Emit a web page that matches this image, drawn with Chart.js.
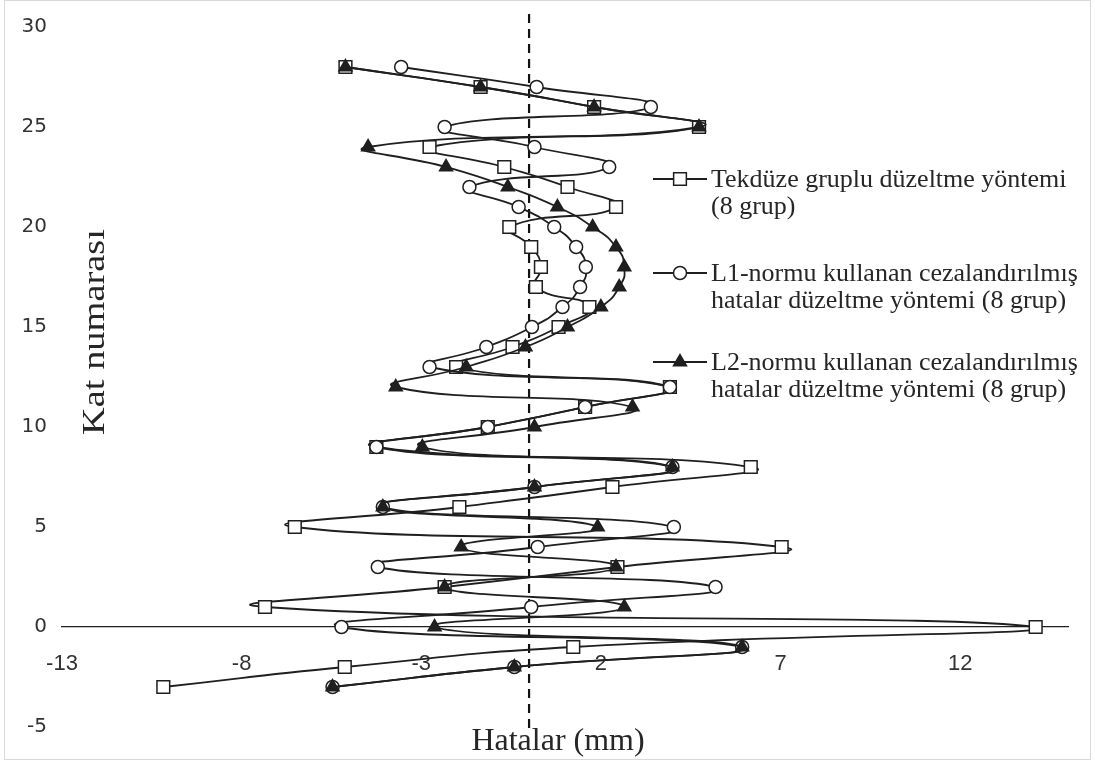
<!DOCTYPE html>
<html>
<head>
<meta charset="utf-8">
<script src="https://cdn.jsdelivr.net/npm/chart.js@4/dist/chart.umd.min.js"></script>
<style>
  html, body { margin: 0; background: #fff; }
  #wrap { width: 1095px; height: 760px; }
</style>
</head>
<body>
<div id="wrap"><canvas id="chart1" width="1095" height="760"></canvas></div>
<script>
// Kat numaraları (y ekseni)
const floors = [-3, -2, -1, 0, 1, 2, 3, 4, 5, 6, 7, 8, 9, 10, 11, 12, 13, 14,
  15, 16, 17, 18, 19, 20, 21, 22, 23, 24, 25, 26, 27, 28];

// Hatalar (mm), her kat için
const tekduze = [-10.18, -5.13, 1.23, 14.1, -7.35, -2.35, 2.46, 7.03, -6.52, -1.94,
  2.32, 6.17, -4.25, -1.15, 1.56, 3.92, -2.03, -0.46, 0.82, 1.68, 0.19, 0.33, 0.06,
  -0.55, 2.42, 1.07, -0.69, -2.77, 4.73, 1.81, -1.35, -5.11];
const l1Normu = [-5.47, -0.41, 5.93, -5.22, 0.06, 5.19, -4.21, 0.24, 4.03, -4.07,
  0.15, 3.99, -4.25, -1.15, 1.56, 3.92, -2.77, -1.19, 0.08, 0.93, 1.42, 1.58, 1.31,
  0.70, -0.29, -1.66, 2.23, 0.15, -2.35, 3.39, 0.21, -3.56];
const l2Normu = [-5.47, -0.41, 5.93, -2.63, 2.65, -2.35, 2.42, -1.89, 1.91, -4.07,
  0.15, 3.99, -2.97, 0.15, 2.88, -3.71, -1.75, -0.10, 1.07, 2.0, 2.51, 2.65, 2.42,
  1.77, 0.79, -0.59, -2.31, -4.48, 4.73, 1.81, -1.35, -5.11];

// sifir cizgisi (kesikli) uclari
const zeroLineX = [0, 0];
const zeroLineY = [-5.05, 30.8];

const xTicks = [-13, -8, -3, 2, 7, 12];
const yTicks = [-5, 0, 5, 10, 15, 20, 25, 30];

const seriesNames = [
  ["Tekdüze gruplu düzeltme yöntemi", "(8 grup)"],
  ["L1-normu kullanan cezalandırılmış", "hatalar düzeltme yöntemi (8 grup)"],
  ["L2-normu kullanan cezalandırılmış", "hatalar düzeltme yöntemi (8 grup)"],
];
const xTitle = "Hatalar (mm)";
const yTitle = "Kat numarası";

const toPoints = (xs) => xs.map((x, i) => ({ x: x, y: floors[i] }));

const lineColor = "#1f1f1f";
const seriesStyle = [
  { pointStyle: "rect", pointRadius: 9, pointBackgroundColor: "#fff" },
  { pointStyle: "circle", pointRadius: 6.5, pointBackgroundColor: "#fff" },
  { pointStyle: "triangle", pointRadius: 7.5, pointBackgroundColor: lineColor },
];
const seriesData = [tekduze, l1Normu, l2Normu];

const datasets = seriesData.map((vals, i) => ({
  label: seriesNames[i].join(" "),
  data: toPoints(vals),
  showLine: true,
  tension: 0.55,
  borderColor: lineColor,
  borderWidth: 1.8,
  pointBorderColor: lineColor,
  pointBorderWidth: 1.5,
  pointStyle: seriesStyle[i].pointStyle,
  pointRadius: seriesStyle[i].pointRadius,
  pointBackgroundColor: seriesStyle[i].pointBackgroundColor,
  order: 3 - i,
}));

datasets.push({
  label: "sifir",
  data: zeroLineX.map((x, i) => ({ x: x, y: zeroLineY[i] })),
  showLine: true,
  borderColor: "#111",
  borderWidth: 2.2,
  borderDash: [9, 6],
  pointRadius: 0,
  clip: false,
  order: 10,
});

// baslik ve lejant cizimi
const extras = {
  id: "extras",
  beforeDraw(chart) {
    const ctx = chart.ctx;
    ctx.save();
    ctx.strokeStyle = "#d9d9d9";
    ctx.lineWidth = 1;
    ctx.strokeRect(4.5, 0.5, 1086, 759);
    ctx.restore();
  },
  afterDraw(chart) {
    const ctx = chart.ctx;
    ctx.save();
    ctx.fillStyle = "#262626";
    ctx.font = '32px "Liberation Serif"';
    ctx.textAlign = "center";
    ctx.textBaseline = "middle";
    ctx.fillText(xTitle, 558, 742);
    ctx.save();
    ctx.translate(96, 332);
    ctx.rotate(-Math.PI / 2);
    ctx.scale(1.2, 1);
    ctx.fillText(yTitle, 0, 0);
    ctx.restore();

    // lejant
    const rows = [187, 281, 370];
    ctx.font = '26px "Liberation Serif"';
    ctx.textAlign = "left";
    ctx.textBaseline = "alphabetic";
    rows.forEach((base, i) => {
      const my = base - 8;
      ctx.strokeStyle = lineColor;
      ctx.lineWidth = 1.8;
      ctx.beginPath();
      ctx.moveTo(653, my);
      ctx.lineTo(707, my);
      ctx.stroke();
      ctx.fillStyle = seriesStyle[i].pointBackgroundColor;
      ctx.lineWidth = 1.5;
      Chart.helpers.drawPoint(ctx, {
        pointStyle: seriesStyle[i].pointStyle,
        radius: seriesStyle[i].pointRadius,
        rotation: 0,
        borderWidth: 1.5,
      }, 680, my);
      ctx.fillStyle = "#262626";
      seriesNames[i].forEach((t, k) => ctx.fillText(t, 711, base + k * 27));
    });
    ctx.restore();
  },
};

new Chart(document.getElementById("chart1").getContext("2d"), {
  type: "scatter",
  data: { datasets: datasets },
  plugins: [extras],
  options: {
    responsive: false,
    animation: false,
    layout: { padding: { left: 12, right: 27, top: 26, bottom: 33 } },
    plugins: { legend: { display: false }, tooltip: { enabled: false } },
    scales: {
      x: {
        type: "linear",
        min: -13,
        max: 15,
        position: { y: 0 },
        afterBuildTicks: (s) => { s.ticks = xTicks.map((v) => ({ value: v })); },
        grid: { display: false, drawTicks: false },
        border: { display: true, color: "#1f1f1f", width: 1.3 },
        ticks: {
          padding: 24,
          color: "#333",
          font: { family: '"Liberation Sans"', size: 22 },
        },
      },
      y: {
        type: "linear",
        min: -5,
        max: 30,
        afterBuildTicks: (s) => { s.ticks = yTicks.map((v) => ({ value: v })); },
        afterFit: (s) => { s.width = 50; },
        grid: { display: false, drawTicks: false },
        border: { display: false },
        ticks: {
          padding: 15,
          color: "#333",
          font: { family: '"DejaVu Sans"', size: 20 },
        },
      },
    },
  },
});
</script>
</body>
</html>
